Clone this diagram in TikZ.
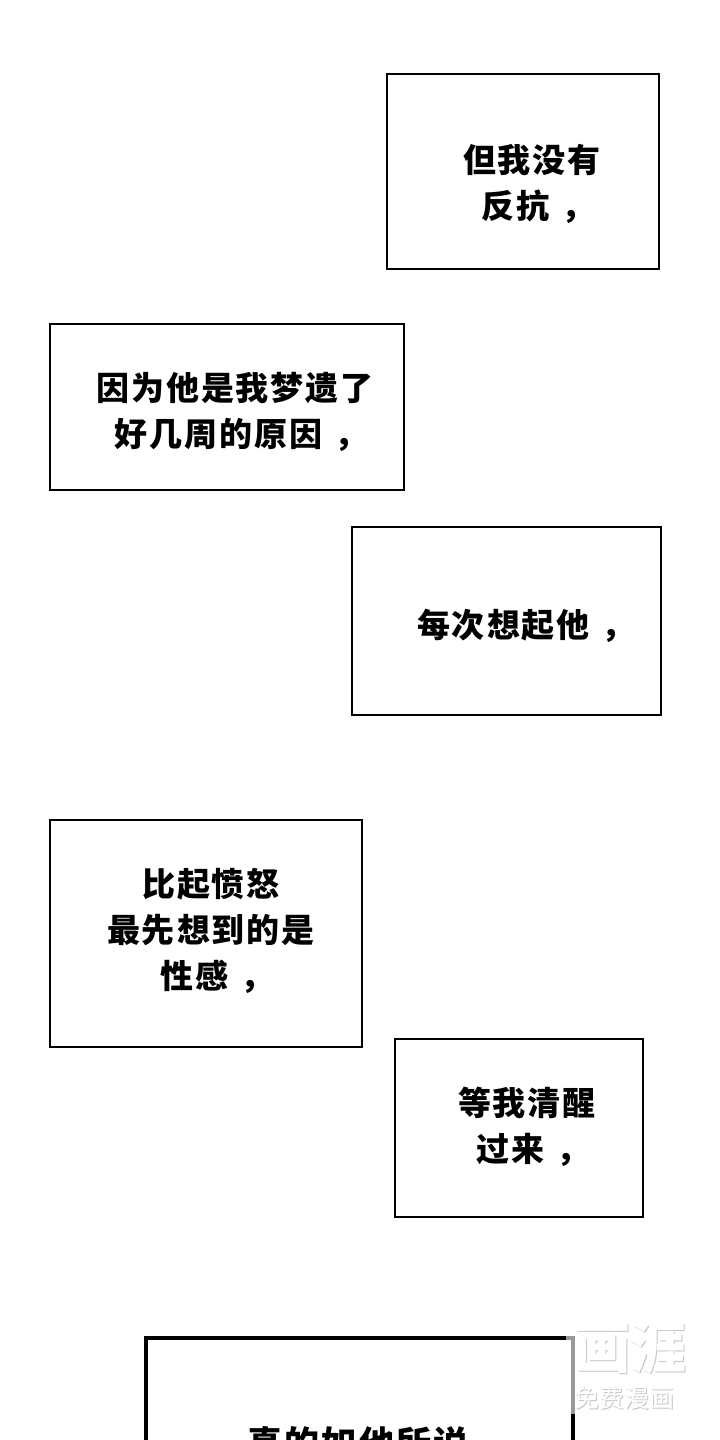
\documentclass[tikz,border=0pt]{standalone}
\usepackage{fontspec}
\newfontfamily\cjk[LetterSpace=6]{Noto Sans CJK SC}
\newfontfamily\cjkwm{Noto Sans CJK SC}
\newcommand\cmm{\makebox[1em][l]{\hspace{0.35em}，}}
\tikzset{
  panel/.style={draw=black, line width=2pt, fill=white},
  thickpanel/.style={draw=black, line width=4.5pt, fill=white},
  caption/.style={font=\cjk\bfseries\fontsize{33}{46}\selectfont, align=center, inner sep=0pt, text=black},
  wmbig/.style={font=\cjkwm\bfseries\fontsize{56}{56}\selectfont, inner sep=0pt},
  wmsmall/.style={font=\cjkwm\fontsize{25}{25}\selectfont, inner sep=0pt}
}
\begin{document}
\begin{tikzpicture}[x=1pt,y=-1pt]
\fill[white] (0,0) rectangle (720,1440);
\useasboundingbox (0,0) rectangle (720,1440);

\draw[panel] (387,74) rectangle (659,269);
\node[caption] (t1) at (532,184) {但我没有\\反抗\cmm};

\draw[panel] (50,324) rectangle (404,490);
\node[caption] (t2) at (235,412) {因为他是我梦遗了\\好几周的原因\cmm};

\draw[panel] (352,527) rectangle (661,715);
\node[caption] (t3) at (520,626) {每次想起他\cmm};

\draw[panel] (50,820) rectangle (362,1047);
\node[caption] (t4) at (211,931) {比起愤怒\\最先想到的是\\性感\cmm};

\draw[panel] (395,1039) rectangle (643,1217);
\node[caption] (t5) at (527,1127) {等我清醒\\过来\cmm};

\draw[thickpanel] (146,1338) rectangle (573,1520);
\node[caption, font=\cjk\bfseries\fontsize{35}{46}\selectfont] (t6) at (358,1443) {真的如他所说};

% watermark
\fill[white, opacity=0.6] (566,1314) rectangle (694,1414);
\node[wmbig, text=gray!45] (wm1s) at (631.5,1348.5) {画涯};
\node[wmbig, text=white] (wm1) at (630,1347) {画涯};
\node[wmsmall, text=gray!45] (wm2s) at (625.5,1398.5) {免费漫画};
\node[wmsmall, text=white] (wm2) at (624.5,1397.5) {免费漫画};
\end{tikzpicture}
\end{document}
